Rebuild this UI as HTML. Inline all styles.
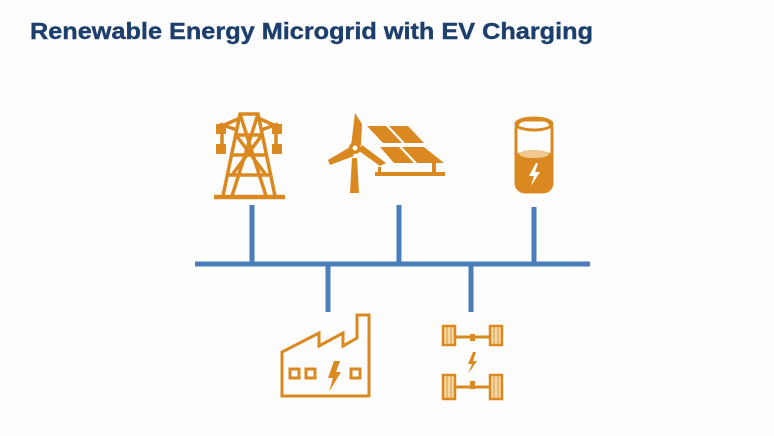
<!DOCTYPE html>
<html><head><meta charset="utf-8"><style>
html,body{margin:0;padding:0;background:#fdfdfd;}
svg{display:block}
</style></head><body>
<svg width="774" height="436" viewBox="0 0 774 436" xmlns="http://www.w3.org/2000/svg">
<rect width="774" height="436" fill="#fdfdfd"/>
<text x="30" y="39" font-family="Liberation Sans, sans-serif" font-weight="bold" font-size="23" fill="#1d3f6e" stroke="#1d3f6e" stroke-width="0.4" textLength="563" lengthAdjust="spacingAndGlyphs">Renewable Energy Microgrid with EV Charging</text>
<!-- bus -->
<g stroke="#4a7ebb" stroke-width="5" fill="none">
<line x1="195" y1="264" x2="590" y2="264"/>
<line x1="252" y1="205" x2="252" y2="264"/>
<line x1="399" y1="205" x2="399" y2="264"/>
<line x1="534" y1="207" x2="534" y2="264"/>
<line x1="328" y1="264" x2="328" y2="312"/>
<line x1="471" y1="264" x2="471" y2="312"/>
</g>
<!-- tower -->
<g stroke="#d9891f" stroke-width="3.5" fill="none">
<line x1="214" y1="197" x2="285" y2="197" stroke-width="4.5"/>
<path d="M223 196 L240 114 L258 114 L275 196"/>
<path d="M240 114 L266 196 M258 114 L232 196"/>
<path d="M236 135 L262 135 M232 155 L266 155 M228 175 L270 175"/>
<path d="M236 135 L266 175 M262 135 L232 175"/>
<path d="M240 118 L222 126 L222 146 M258 118 L276 126 L276 146"/>
<path d="M237 130 L220 124 M261 130 L278 124"/>
</g>
<g fill="#d9891f">
<rect x="216" y="124" width="10" height="10"/><rect x="272" y="124" width="10" height="10"/>
<rect x="216" y="144" width="10" height="10"/><rect x="272" y="144" width="10" height="10"/>
</g>
<!-- solar -->
<g fill="#d9891f">
<polygon points="367,126 386,126 402,143 383,143"/>
<polygon points="389,126 408,126 424,143 405,143"/>
<polygon points="380,147 399,147 414,163 394,163"/>
<polygon points="402,147 424,147 444,163 417,163"/>
<rect x="375" y="172" width="70" height="4"/>
<rect x="432" y="163" width="4" height="10"/>
<rect x="378" y="167" width="3" height="6"/>
<!-- wind -->
<polygon points="350,193 359,193 357,158 352,158"/>
<circle cx="355" cy="148" r="6"/>
<polygon points="351,146 355,113 362,124 361,145"/>
<polygon points="350,147 328,160 330,165 354,156"/>
<polygon points="359,151 380,166 386,163 362,145"/>
</g>
<circle cx="355" cy="148" r="2.5" fill="#fff"/>
<!-- battery -->
<g>
<rect x="516" y="120" width="36" height="72" rx="9" fill="none" stroke="#d9891f" stroke-width="3"/>
<ellipse cx="534" cy="124" rx="18" ry="6" fill="none" stroke="#d9891f" stroke-width="3"/>
<path d="M516 154 Q534 146 552 154 L552 183 Q552 192 534 192 Q516 192 516 183 Z" fill="#d9891f"/>
<ellipse cx="534" cy="154" rx="15" ry="4" fill="#f0c890"/>
<polygon points="536,163 529,176 534,176 531,186 540,172 535,172 538,163" fill="#fff"/>
</g>
<!-- factory -->
<g stroke="#d9891f" stroke-width="3" fill="none">
<path d="M282 396 L369 396 L369 315 L357 315 L357 338 L343 346 L343 333 L319 346 L319 333 L282 352 Z"/>
<rect x="290" y="369" width="9" height="9"/>
<rect x="306" y="369" width="9" height="9"/>
<rect x="351" y="369" width="9" height="9"/>
</g>
<polygon points="334,361 328,378 333,378 329,392 341,372 336,372 340,361" fill="#d9891f"/>
<!-- EV chassis -->
<g stroke="#d9891f" stroke-width="2.5" fill="#f4d8a8">
<rect x="443" y="326" width="12" height="19"/>
<rect x="490" y="326" width="12" height="19"/>
<rect x="443" y="375" width="12" height="24"/>
<rect x="490" y="375" width="12" height="24"/>
</g>
<g stroke="#d9891f" stroke-width="1" opacity="0.8">
<path d="M447 327 V344 M451 327 V344 M494 327 V344 M498 327 V344 M447 376 V398 M451 376 V398 M494 376 V398 M498 376 V398"/>
</g>
<g stroke="#d9891f" stroke-width="3">
<line x1="455" y1="337" x2="490" y2="337"/>
<line x1="455" y1="387" x2="490" y2="387"/>
</g>
<g fill="#d9891f">
<rect x="470" y="334" width="5" height="7"/>
<rect x="470" y="381" width="5" height="8"/>
<polygon points="473,352 468,364 472,364 468,374 477,361 473,361 476,352"/>
</g>
</svg>
</body></html>
